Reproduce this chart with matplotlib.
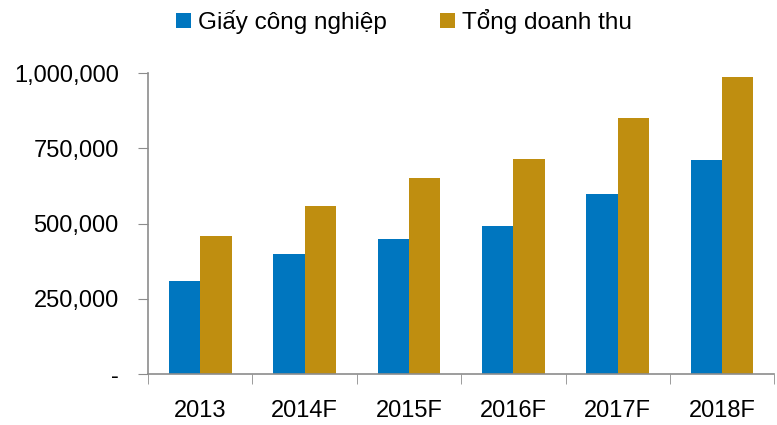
import matplotlib.pyplot as plt
import numpy as np
from matplotlib.ticker import FuncFormatter

plt.rcParams['font.family'] = ['Liberation Sans', 'DejaVu Sans']

# data
years = ['2013', '2014F', '2015F', '2016F', '2017F', '2018F']
giay_cong_nghiep = [309000, 399000, 449000, 492000, 598000, 711000]
tong_doanh_thu = [458000, 558000, 651000, 714000, 852000, 987000]

blue = '#0076BF'
gold = '#BF8E10'
grey = '#8c8c8c'

fig = plt.figure(figsize=(7.77, 4.25), dpi=100)
ax = fig.add_axes([0.1905, 0.12, 0.806, 0.708])

x = np.arange(len(years))
w = 0.3
ax.bar(x - w / 2, giay_cong_nghiep, w, color=blue, label='Giấy công nghiệp')
ax.bar(x + w / 2, tong_doanh_thu, w, color=gold, label='Tổng doanh thu')

ax.set_xlim(-0.5, len(years) - 0.5)
ax.set_ylim(0, 1000000)

# category labels in the middle, tick marks between categories
ax.set_xticks(x)
ax.set_xticklabels(years, fontsize=17)
ax.set_xticks(np.arange(len(years) + 1) - 0.5, minor=True)
ax.tick_params(axis='x', which='major', length=0, pad=19)
ax.tick_params(axis='x', which='minor', length=7, color=grey, direction='out')

ax.set_yticks([0, 250000, 500000, 750000, 1000000])
ax.yaxis.set_major_formatter(FuncFormatter(lambda v, p: '-' if v == 0 else f'{int(v):,}'))
ax.tick_params(axis='y', length=7, color=grey, labelsize=17, pad=14)

for s in ['top', 'right']:
    ax.spines[s].set_visible(False)
for s in ['left', 'bottom']:
    ax.spines[s].set_color(grey)
    ax.spines[s].set_linewidth(1.2)

fig.legend(loc='upper center', bbox_to_anchor=(0.52, 1.03), ncol=2, frameon=False,
           fontsize=17.5, handlelength=0.6, handleheight=0.6, handletextpad=0.3,
           columnspacing=2.2)

fig.savefig('out.png', dpi=100, facecolor='white')
